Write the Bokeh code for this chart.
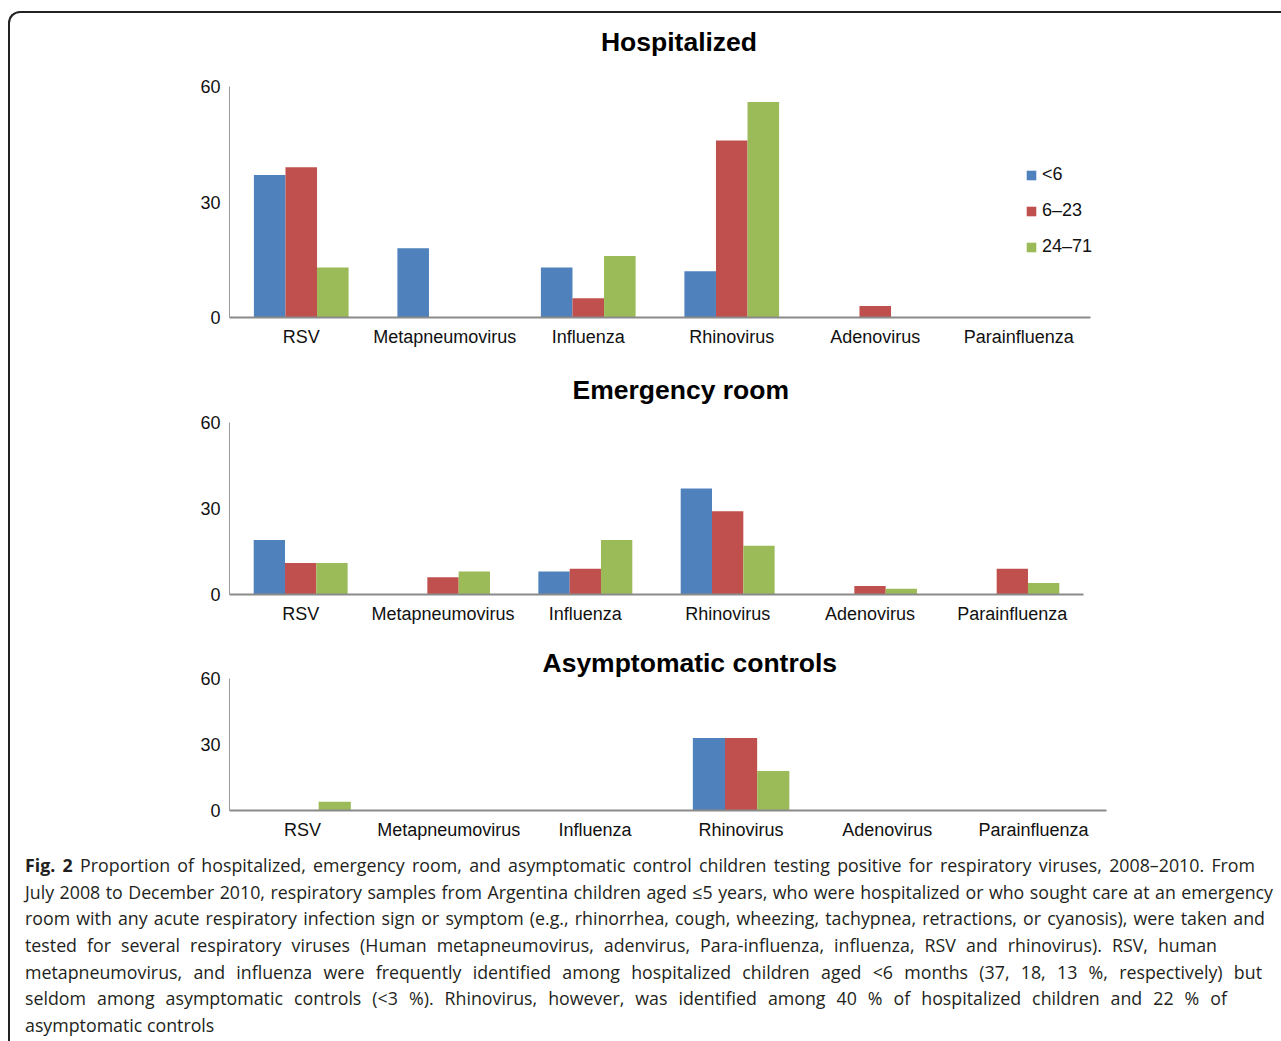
from bokeh.plotting import figure
from bokeh.models import (FactorRange, Range1d, FixedTicker, Legend, LegendItem,
                          Title, Div, ColumnDataSource)
from bokeh.transform import dodge
from bokeh.layouts import column
from bokeh.embed import file_html
from bokeh.resources import INLINE

# ---------------- data ----------------
viruses = ["RSV", "Metapneumovirus", "Influenza", "Rhinovirus", "Adenovirus", "Parainfluenza"]
age_groups = ["<6", "6\u201323", "24\u201371"]
y_ticks = [0, 30, 60]

hosp_lt6 = [37, 18, 13, 12, 0, 0]
hosp_6_23 = [39, 0, 5, 46, 3, 0]
hosp_24_71 = [13, 0, 16, 56, 0, 0]

er_lt6 = [19, 0, 8, 37, 0, 0]
er_6_23 = [11, 6, 9, 29, 3, 9]
er_24_71 = [11, 8, 19, 17, 2, 4]

asym_lt6 = [0, 0, 0, 33, 0, 0]
asym_6_23 = [0, 0, 0, 33, 0, 0]
asym_24_71 = [4, 0, 0, 18, 0, 0]

panel_titles = ["Hospitalized", "Emergency room", "Asymptomatic controls"]

caption_lines = [
    "<b>Fig. 2</b> Proportion of hospitalized, emergency room, and asymptomatic control children testing positive for respiratory viruses, 2008\u20132010. From",
    "July 2008 to December 2010, respiratory samples from Argentina children aged \u22645 years, who were hospitalized or who sought care at an emergency",
    "room with any acute respiratory infection sign or symptom (e.g., rhinorrhea, cough, wheezing, tachypnea, retractions, or cyanosis), were taken and",
    "tested for several respiratory viruses (Human metapneumovirus, adenvirus, Para-influenza, influenza, RSV and rhinovirus). RSV, human",
    "metapneumovirus, and influenza were frequently identified among hospitalized children aged &lt;6 months (37, 18, 13 %, respectively) but",
    "seldom among asymptomatic controls (&lt;3 %). Rhinovirus, however, was identified among 40 % of hospitalized children and 22 % of",
    "asymptomatic controls",
]

# ---------------- style ----------------
colors = ["#4F81BD", "#C0504D", "#9BBB59"]
TICK_FONT = "Liberation Sans"
TITLE_SIZE = "26.5px"
TOTAL_W = 1262


def make_panel(title, series, title_offset, title_standoff, frame_w, frame_h,
               b_left, b_top, b_bottom, legend=False):
    p = figure(x_range=FactorRange(*viruses), y_range=Range1d(0, 60),
               frame_width=frame_w, frame_height=frame_h,
               min_border_left=b_left, min_border_right=TOTAL_W - b_left - frame_w,
               min_border_top=b_top, min_border_bottom=b_bottom,
               output_backend="svg", toolbar_location=None,
               outline_line_color=None, title=None)
    if title is not None:
        p.title = Title(text=title, align="left", offset=title_offset,
                        standoff=title_standoff,
                        text_font=TICK_FONT, text_font_size=TITLE_SIZE,
                        text_font_style="bold", text_color="#000000")
    src = ColumnDataSource(dict(virus=viruses, a=series[0], b=series[1], c=series[2]))
    bw = 0.22
    renderers = []
    for key, off, col in zip(["a", "b", "c"], [-bw, 0.0, bw], colors):
        r = p.vbar(x=dodge("virus", off, range=p.x_range), top=key, width=bw,
                   source=src, fill_color=col, line_color=None)
        renderers.append(r)

    p.xgrid.visible = False
    p.ygrid.visible = False
    p.yaxis.ticker = FixedTicker(ticks=y_ticks)
    for ax in (p.xaxis[0], p.yaxis[0]):
        ax.major_tick_line_color = None
        ax.minor_tick_line_color = None
        ax.major_tick_out = 0
        ax.major_tick_in = 0
        ax.major_label_text_font = TICK_FONT
        ax.major_label_text_font_size = "18px"
        ax.major_label_text_color = "#111111"
    p.xaxis.axis_line_color = "#8a8a8a"
    p.xaxis.axis_line_width = 2
    p.yaxis.axis_line_color = "#9a9a9a"
    p.yaxis.axis_line_width = 1
    p.xaxis.major_label_standoff = 9
    p.yaxis.major_label_standoff = 9

    if legend:
        items = [LegendItem(label=g, renderers=[r]) for g, r in zip(age_groups, renderers)]
        lg = Legend(items=items, location=(-65, 60), padding=0, margin=0,
                    border_line_color=None, background_fill_alpha=0,
                    glyph_width=12, glyph_height=12, label_height=21,
                    label_standoff=5, spacing=15, label_text_font=TICK_FONT,
                    label_text_font_size="18px", label_text_color="#111111")
        p.add_layout(lg, "right")
    return p


# title of the first panel as a heading block above it
t1 = Div(text=('<div style="width:600px;margin-left:369px;text-align:center;'
               'padding-top:14px;line-height:30px;font-family:\'Liberation Sans\', Arial, sans-serif;'
               f'font-size:{TITLE_SIZE};font-weight:bold;color:#000;">{panel_titles[0]}</div>'),
         width=TOTAL_W, height=44, styles={"margin": "0", "padding": "0"})

p1 = make_panel(None, [hosp_lt6, hosp_6_23, hosp_24_71], 0, 0,
                861, 231, 217, 29, 37, legend=True)
p2 = make_panel(panel_titles[1], [er_lt6, er_6_23, er_24_71], 343, 36,
                854, 172, 219, 66, 46)
p3 = make_panel(panel_titles[2], [asym_lt6, asym_6_23, asym_24_71], 313, 2,
                877, 132, 218, 38, 37)

line_widths = [1230, 1248, 1240, 1192, 1237, 1202, None]
html_lines = []
for txt, w in zip(caption_lines, line_widths):
    if w:
        html_lines.append(
            f'<div style="width:{w}px;white-space:nowrap;text-align:justify;'
            f'text-align-last:justify;">{txt}</div>')
    else:
        html_lines.append(f'<div style="white-space:nowrap;">{txt}</div>')
caption_html = (
    '<div style="font-family:\'Open Sans\', sans-serif;font-size:17.8px;'
    'line-height:26.67px;color:#231f20;padding-left:10px;">'
    + "".join(html_lines) + "</div>")
cap = Div(text=caption_html, width=TOTAL_W, height=193)

layout = column(t1, p1, p2, p3, cap,
                styles={"border-top": "2px solid #222", "border-left": "2px solid #222",
                        "border-bottom": "2px solid #222",
                        "border-radius": "12px 0 0 12px",
                        "margin": "11px 0 0 8px",
                        "background-color": "white"})

open("out.html", "w").write(file_html(layout, INLINE))
